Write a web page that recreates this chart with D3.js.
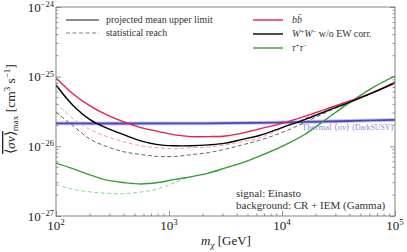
<!DOCTYPE html>
<html><head><meta charset="utf-8">
<script src="https://cdn.jsdelivr.net/npm/d3@7/dist/d3.min.js"></script>
<style>
html,body{margin:0;padding:0;background:#fff;}
svg, svg text, svg tspan{font-family:"Liberation Serif","Times New Roman",serif;}
</style></head>
<body>
<svg id="chart" width="407" height="252" font-family="Liberation Serif, serif"></svg>
<script>
// ---- data (values in units of 1e-26 cm^3 s^-1) ----
const massGrid = [100, 141, 200, 282, 398, 562, 794, 1122, 1585, 2239, 3162, 4467, 6310, 10000, 15849, 25119, 39811, 63096, 100000];
const bbUpper      = [9.55, 5.69, 3.80, 2.82, 2.24, 1.86, 1.64, 1.46, 1.38, 1.38, 1.41, 1.55, 1.78, 2.14, 2.69, 3.47, 4.47, 5.89, 8.32];
const bbReach      = [4.17, 2.51, 1.74, 1.38, 1.16, 1.02, 0.955, 0.923, 0.955, 0.977, 1.05, 1.17, 1.32, 1.82, 2.51, 3.47, 4.47, 5.89, 8.32];
const wwUpper      = [7.59, 3.89, 2.42, 1.83, 1.47, 1.20, 1.06, 1.02, 1.02, 1.05, 1.11, 1.26, 1.43, 1.86, 2.42, 3.24, 4.31, 5.85, 8.13];
const wwReach      = [3.10, 1.98, 1.27, 0.99, 0.835, 0.765, 0.716, 0.716, 0.759, 0.813, 0.912, 1.05, 1.22, 1.58, 2.19, 3.13, 4.27, 5.85, 8.13];
const tauUpper     = [0.575, 0.479, 0.389, 0.327, 0.302, 0.288, 0.302, 0.335, 0.367, 0.412, 0.490, 0.582, 0.724, 1.00, 1.48, 2.51, 4.27, 6.92, 10.2];
const tauReach     = [0.282, 0.242, 0.222, 0.212, 0.209, 0.221, 0.245, 0.302, 0.367, 0.412, 0.490, 0.582, 0.724, 1.00, 1.48, 2.51, 4.27, 6.92, 10.2];
const thermalMass  = [100, 1000, 3162, 10000, 31623, 100000];
const thermalValue = [2.13, 2.13, 2.15, 2.20, 2.29, 2.40];
const unit = 1e-26;
const xTickLabels = ["2", "3", "4", "5"];   // exponents of 10 at 1e2..1e5
const yTickLabels = ["−27", "−26", "−25", "−24"];
const xTicks = [1e2, 1e3, 1e4, 1e5];
const yTicks = [1e-27, 1e-26, 1e-25, 1e-24];

const series = [
  {vals: tauReach, color: "#93d493", dash: "4,2.5", w: 1.0},
  {vals: bbReach,  color: "#f29ab0", dash: "4,2.5", w: 1.0},
  {vals: wwReach,  color: "#666666", dash: "4,2.5", w: 1.0},
  {vals: tauUpper, color: "#32a032", dash: null, w: 1.4},
  {vals: bbUpper,  color: "#e3204e", dash: null, w: 1.4},
  {vals: wwUpper,  color: "#000000", dash: null, w: 1.4}
];

const L = 56, R = 395, T = 7, B = 216;
const svg = d3.select("#chart");
const x = d3.scaleLog().domain([1e2, 1e5]).range([L, R]);
const y = d3.scaleLog().domain([1e-27, 1e-24]).range([B, T]);

svg.append("defs").append("clipPath").attr("id", "clip")
  .append("rect").attr("x", L).attr("y", T).attr("width", R - L).attr("height", B - T);

const plot = svg.append("g").attr("clip-path", "url(#clip)");

const line = d3.line().x(d => x(d[0])).y(d => y(d[1] * unit)).curve(d3.curveCatmullRom.alpha(0.5));

// thermal band + line
const thermal = thermalMass.map((m, i) => [m, thermalValue[i]]);
plot.append("path").attr("d", line(thermal)).attr("fill", "none")
  .attr("stroke", "#c4c4f0").attr("stroke-width", 3.8);
plot.append("path").attr("d", line(thermal)).attr("fill", "none")
  .attr("stroke", "#4848b4").attr("stroke-width", 1.8);

series.forEach(s => {
  const pts = massGrid.map((m, i) => [m, s.vals[i]]);
  plot.append("path").attr("d", line(pts)).attr("fill", "none")
    .attr("stroke", s.color).attr("stroke-width", s.w)
    .attr("stroke-dasharray", s.dash);
});

// frame
const frameColor = "#777";
svg.append("rect").attr("x", L).attr("y", T).attr("width", R - L).attr("height", B - T)
  .attr("fill", "none").attr("stroke", frameColor).attr("stroke-width", 0.9);

// axes with inward ticks
const xAxis = d3.axisBottom(x).tickValues(xTicks).tickSizeInner(-5).tickSizeOuter(0).tickFormat("");
const gx = svg.append("g").attr("transform", `translate(0,${B})`).call(xAxis);
const xMinor = [];
for (let e = 2; e < 5; e++) for (let k = 2; k <= 9; k++) xMinor.push(k * Math.pow(10, e));
gx.selectAll(".minor").data(xMinor).enter().append("line").attr("class", "minor")
  .attr("x1", d => x(d)).attr("x2", d => x(d)).attr("y1", 0).attr("y2", -2.5);

const yAxis = d3.axisLeft(y).tickValues(yTicks).tickSizeInner(-5).tickSizeOuter(0).tickFormat("");
const gy = svg.append("g").attr("transform", `translate(${L},0)`).call(yAxis);
const yMinor = [];
for (let e = -27; e < -24; e++) for (let k = 2; k <= 9; k++) yMinor.push(k * Math.pow(10, e));
gy.selectAll(".minor").data(yMinor).enter().append("line").attr("class", "minor")
  .attr("y1", d => y(d)).attr("y2", d => y(d)).attr("x1", 0).attr("x2", 2.5);

const yAxisR = d3.axisRight(y).tickValues(yTicks).tickSizeInner(-5).tickSizeOuter(0).tickFormat("");
const gyr = svg.append("g").attr("transform", `translate(${R},0)`).call(yAxisR);
gyr.selectAll(".minor").data(yMinor).enter().append("line").attr("class", "minor")
  .attr("y1", d => y(d)).attr("y2", d => y(d)).attr("x1", 0).attr("x2", -2.5);

[gx, gy, gyr].forEach(g => {
  g.select(".domain").remove();
  g.selectAll("line").attr("stroke", frameColor).attr("stroke-width", 0.8);
});

// tick labels
const fs = 13;
xTicks.forEach((t, i) => {
  const tx = svg.append("text").attr("x", x(t)).attr("y", 230).attr("text-anchor", "middle")
    .attr("font-size", fs).attr("fill", "#222");
  tx.append("tspan").text("10");
  tx.append("tspan").attr("dy", -5).attr("font-size", 9).text(xTickLabels[i]);
});
yTicks.forEach((t, i) => {
  const tx = svg.append("text").attr("x", L - 2).attr("y", y(t) + 4.5).attr("text-anchor", "end")
    .attr("font-size", fs).attr("fill", "#222");
  tx.append("tspan").text("10");
  tx.append("tspan").attr("dy", -4.5).attr("font-size", 8.5).text(yTickLabels[i]);
});

// axis labels
const xl = svg.append("text").attr("x", 226).attr("y", 245).attr("text-anchor", "middle")
  .attr("font-size", 13).attr("fill", "#222");
xl.append("tspan").attr("font-style", "italic").text("m");
xl.append("tspan").attr("font-size", 9).attr("font-style", "italic").attr("dy", 3).text("χ");
xl.append("tspan").attr("dy", -3).text("  [GeV]");

const yl = svg.append("text").attr("transform", "translate(15,109) rotate(-90)")
  .attr("text-anchor", "middle").attr("font-size", 13.5).attr("fill", "#222");
yl.append("tspan").attr("text-decoration", "overline").text("⟨");
yl.append("tspan").attr("font-style", "italic").attr("text-decoration", "overline").text("σv");
yl.append("tspan").attr("text-decoration", "overline").text("⟩");
yl.append("tspan").attr("font-size", 9).attr("dy", 3).text("max");
yl.append("tspan").attr("dy", -3).text("  [cm");
yl.append("tspan").attr("font-size", 9).attr("dy", -5).text("3");
yl.append("tspan").attr("dy", 5).text(" s");
yl.append("tspan").attr("font-size", 9).attr("dy", -5).text("−1");
yl.append("tspan").attr("dy", 5).text("]");

// legends
const lfs = 9.9;
const leg1 = [
  {label: "projected mean upper limit", color: "#666", dash: null, yy: 20},
  {label: "statistical reach", color: "#aaa", dash: "4,2.5", yy: 33}
];
leg1.forEach(d => {
  svg.append("line").attr("x1", 66).attr("x2", 99).attr("y1", d.yy).attr("y2", d.yy)
    .attr("stroke", d.color).attr("stroke-width", 1.3).attr("stroke-dasharray", d.dash);
  svg.append("text").attr("x", 106).attr("y", d.yy + 3.3).attr("font-size", lfs).attr("fill", "#333").text(d.label);
});
const leg2 = [
  {color: "#e3204e", yy: 20, parts: [["b", "italic"], ["b\u0304", "italic"]]},
  {color: "#000", yy: 34, parts: [["W", "italic"], ["+", "sup"], ["W", "italic"], ["−", "sup"], [" w/o EW corr.", "normal"]]},
  {color: "#32a032", yy: 48, parts: [["τ", "italic"], ["+", "sup"], ["τ", "italic"], ["−", "sup"]]}
];
leg2.forEach(d => {
  svg.append("line").attr("x1", 253).attr("x2", 283).attr("y1", d.yy).attr("y2", d.yy)
    .attr("stroke", d.color).attr("stroke-width", 1.4);
  const t = svg.append("text").attr("x", 292).attr("y", d.yy + 3.3).attr("font-size", lfs).attr("fill", "#333");
  let up = false;
  d.parts.forEach(p => {
    const ts = t.append("tspan").text(p[0]);
    if (p[1] === "italic") ts.attr("font-style", "italic");
    if (p[1] === "sup") { ts.attr("font-size", 7).attr("dy", up ? 0 : -3.8); up = true; }
    else if (up) { ts.attr("dy", 3.8); up = false; }
  });
});

// thermal label
const th = svg.append("text").attr("x", 393).attr("y", 130).attr("text-anchor", "end")
  .attr("font-size", 8.8).attr("fill", "#8c8cdc");
th.append("tspan").text("Thermal ⟨");
th.append("tspan").attr("font-style", "italic").text("σv");
th.append("tspan").text("⟩ ");
th.append("tspan").attr("font-family", "'Liberation Mono','DejaVu Sans Mono',monospace").attr("font-size", 7.8).text("(DarkSUSY)");

// annotation
svg.append("text").attr("x", 236).attr("y", 197).attr("font-size", 11).attr("fill", "#333").text("signal: Einasto");
svg.append("text").attr("x", 236).attr("y", 209).attr("font-size", 11).attr("fill", "#333").text("background: CR + IEM (Gamma)");
</script>
</body></html>
